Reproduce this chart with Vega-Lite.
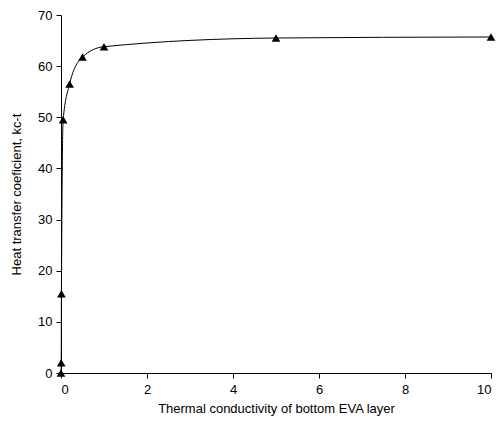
{
  "$schema": "https://vega.github.io/schema/vega-lite/v6.json",
  "width": 430,
  "height": 358,
  "autosize": "none",
  "padding": {"left": 61, "top": 15, "right": 8, "bottom": 54},
  "background": "white",
  "config": {"view": {"stroke": null}, "font": "Liberation Sans"},
  "data": {"values": [
    {"k": 0, "h": 0},
    {"k": 0.005, "h": 2},
    {"k": 0.01, "h": 15.5},
    {"k": 0.05, "h": 49.5},
    {"k": 0.2, "h": 56.5},
    {"k": 0.5, "h": 61.8},
    {"k": 1, "h": 63.8},
    {"k": 5, "h": 65.5},
    {"k": 10, "h": 65.7}
  ]},
  "encoding": {
    "x": {"field": "k", "type": "quantitative", "scale": {"domain": [0, 10], "nice": false},
      "axis": {"values": [0, 2, 4, 6, 8, 10], "grid": false, "domainColor": "black", "tickColor": "black", "tickSize": 5,
        "labelFont": "Liberation Sans", "labelFontSize": 13, "labelColor": "black", "labelPadding": 5,
        "title": "Thermal conductivity  of bottom EVA layer", "titleFont": "Liberation Sans", "titleFontSize": 13,
        "titleFontWeight": "normal", "titleColor": "black", "titlePadding": 6}},
    "y": {"field": "h", "type": "quantitative", "scale": {"domain": [0, 70], "nice": false},
      "axis": {"values": [0, 10, 20, 30, 40, 50, 60, 70], "grid": false, "domainColor": "black", "tickColor": "black", "tickSize": 5,
        "labelFont": "Liberation Sans", "labelFontSize": 13, "labelColor": "black", "labelPadding": 4,
        "title": "Heat transfer coeficient, kc-t", "titleFont": "Liberation Sans", "titleFontSize": 13,
        "titleFontWeight": "normal", "titleColor": "black", "titlePadding": 14}}
  },
  "layer": [
    {"mark": {"type": "line", "interpolate": "monotone", "color": "black", "strokeWidth": 1}},
    {"mark": {"type": "point", "shape": "triangle-up", "filled": true, "color": "black", "size": 75, "opacity": 1}}
  ]
}
